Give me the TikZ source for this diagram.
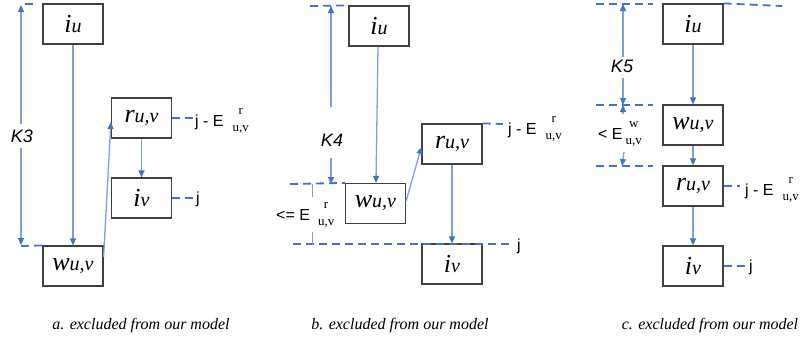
\documentclass[tikz,border=0pt]{standalone}
\usepackage{fontspec}
\setmainfont{Liberation Serif}
\setsansfont{Liberation Sans}
\usetikzlibrary{arrows.meta,calc}
\definecolor{dblue}{HTML}{4472C4}
\definecolor{lblue}{HTML}{7FA0D8}
\definecolor{boxc}{HTML}{404040}
\newcommand\bl[2]{{\fontsize{26}{26}\selectfont\itshape #1}{\fontsize{20}{20}\selectfont\itshape #2}}
\newcommand\supsubx[2]{\raisebox{-5pt}{\rmfamily\fontsize{13}{17}\selectfont\begin{tabular}[b]{@{}c@{}}#1\\#2\end{tabular}}}
\tikzset{
  box/.style={draw=boxc, line width=1.2pt, fill=white, minimum width=60pt, minimum height=40pt, inner sep=0pt},
  tipb/.tip={Triangle[length=7pt,width=6pt,color=dblue]},
  flow/.style={draw=lblue, line width=1.3pt, -tipb},
  thinb/.style={draw=lblue, line width=1pt},
  dashd/.style={draw=dblue, line width=1.8pt, dash pattern=on 8pt off 5pt},
  lab/.style={font=\sffamily\fontsize{16}{16}\selectfont, inner sep=0pt},
  klab/.style={font=\sffamily\itshape\fontsize{18}{18}\selectfont, inner sep=0pt},
  captext/.style={font=\rmfamily\itshape\fontsize{16}{16}\selectfont, inner sep=0pt}
}
\begin{document}
\begin{tikzpicture}[x=1pt,y=-1pt]
\fill[white] (0,0) rectangle (806,341);
\useasboundingbox (0,0) rectangle (806,341);
% ---------------- panel a
\node[box] (iua) at (73,24) {\bl{i}{u}};
\node[box] (rua) at (141.5,118) {\bl{r}{u,v}};
\node[box] (iva) at (141.5,198) {\bl{i}{v}};
\node[box] (wua) at (73,266) {\bl{w}{u,v}};
\draw[flow] (iua) -- (wua);
\draw[flow] ([yshift=9pt]wua.east) -- ([yshift=-4pt]rua.west);
\draw[flow] (rua) -- (iva);
\coordinate (k3t) at (21,5);
\coordinate (k3b) at (21,245);
\draw[flow, tipb-tipb] (k3t) -- (k3b);
\node[klab, fill=white, inner ysep=6pt, inner xsep=1pt] (k3) at (22,136) {K3};
\coordinate (d3a) at (25,4);
\coordinate (d3b) at (34,4);
\draw[dashd] (d3a) -- (d3b);
\coordinate (d3c) at (21,246);
\draw[dashd] (d3c) -- (wua.north west);
\coordinate (jra) at (193,118);
\draw[dashd] (rua.east) -- (jra);
\node[lab, anchor=base west] (la) at (195,126) {j - E\hspace{9pt}\supsubx{r}{u,v}};
\coordinate (jia) at (193,198);
\draw[dashd] (iva.east) -- (jia);
\node[lab, anchor=base west] (lja) at (196,203) {j};
% ---------------- panel b
\node[box] (iub) at (379,26) {\bl{i}{u}};
\node[box] (wub) at (375.5,203.5) {\bl{w}{u,v}};
\node[box] (rub) at (452,144) {\bl{r}{u,v}};
\node[box] (ivb) at (452,264) {\bl{i}{v}};
\draw[flow] ([xshift=-1pt]iub.south) -- ([xshift=0.5pt]wub.north);
\draw[flow] ([yshift=2.5pt]wub.east) -- ([yshift=-3pt]rub.west);
\draw[flow] (rub) -- (ivb);
\coordinate (db1) at (310,6);
\draw[dashd] (db1) -- (iub.north west);
\coordinate (db2) at (290,184);
\draw[dashd] (db2) -- (wub.north west);
\coordinate (jb1) at (293,244);
\coordinate (jb2) at (510,244);
\draw[dashd] (jb1) -- (jb2);
\node[lab, anchor=base west] (ljb) at (517,250) {j};
\coordinate (k4t) at (331,6);
\coordinate (k4a) at (331,107);
\coordinate (k4b) at (331,158);
\coordinate (k4d) at (331,184);
\draw[flow] (k4a) -- (k4t);
\draw[flow] (k4b) -- (k4d);
\node[klab] (k4) at (332,140) {K4};
\coordinate (br1) at (312,184);
\coordinate (br2) at (312,197);
\coordinate (br3) at (312,232);
\coordinate (br4) at (312,244);
\draw[thinb] (br1) -- (br2);
\draw[thinb] (br3) -- (br4);
\node[lab, anchor=base west] (leb) at (276,220) {<= E\hspace{8pt}\supsubx{r}{u,v}};
\coordinate (jrb) at (503,124);
\draw[dashd] (rub.north east) -- (jrb);
\node[lab, anchor=base west] (lb) at (508,134) {j - E\hspace{9pt}\supsubx{r}{u,v}};
% ---------------- panel c
\node[box] (iuc) at (693,24) {\bl{i}{u}};
\node[box] (wuc) at (693,125) {\bl{w}{u,v}};
\node[box] (ruc) at (693,186) {\bl{r}{u,v}};
\node[box] (ivc) at (693,266) {\bl{i}{v}};
\draw[flow] (iuc) -- (wuc);
\draw[flow] (wuc) -- (ruc);
\draw[flow] (ruc) -- (ivc);
\coordinate (dc1) at (596,4);
\coordinate (dc2) at (653,4);
\draw[dashd] (dc1) -- (dc2);
\coordinate (dc3) at (782,6);
\draw[dashd] (iuc.north east) -- (dc3);
\coordinate (dc4) at (596,105);
\coordinate (dc5) at (653,105);
\draw[dashd] (dc4) -- (dc5);
\coordinate (dc6) at (596,166);
\coordinate (dc7) at (653,166);
\draw[dashd] (dc6) -- (dc7);
\coordinate (k5t) at (623,4);
\coordinate (k5a) at (623,57);
\coordinate (k5b) at (623,78);
\coordinate (k5d) at (623,105);
\draw[flow] (k5a) -- (k5t);
\draw[flow] (k5b) -- (k5d);
\node[klab] (k5) at (622,66) {K5};
\coordinate (e5a) at (623,114);
\coordinate (e5b) at (624,152);
\coordinate (e5d) at (622,166);
\draw[flow] (e5a) -- (k5d);
\draw[flow] (e5b) -- (e5d);
\node[lab, anchor=base west] (lec) at (598,139) {< E\hspace{3pt}\supsubx{w}{u,v}};
\coordinate (jrc) at (740,186);
\draw[dashd] (ruc.east) -- (jrc);
\node[lab, anchor=base west] (lc) at (745,195) {j - E\hspace{9pt}\supsubx{r}{u,v}};
\coordinate (jic) at (745,266);
\draw[dashd] (ivc.east) -- (jic);
\node[lab, anchor=base west] (ljc) at (749,271) {j};
% ---------------- captions
\node[captext] (ca) at (141,326) {a. excluded from our model};
\node[captext] (cb) at (400,326) {b. excluded from our model};
\node[captext] (cc) at (710,326) {c. excluded from our model};
\end{tikzpicture}
\end{document}
